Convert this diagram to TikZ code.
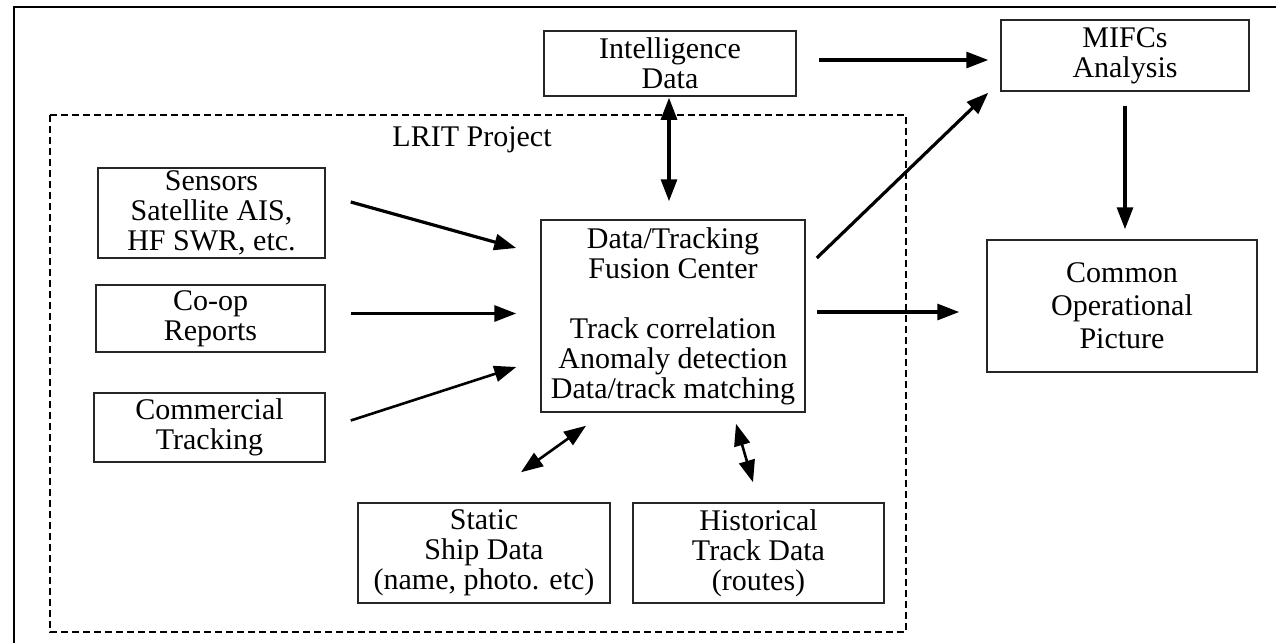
\documentclass[tikz,border=0pt]{standalone}
\usepackage{fontspec}
\setmainfont{Liberation Serif}
\usetikzlibrary{arrows.meta}
\begin{document}
\begin{tikzpicture}[x=1pt,y=-1pt,
  every node/.style={font=\fontsize{30}{30}\selectfont, inner sep=0pt, align=center},
  box/.style={draw=black!85, line width=1.5pt},
  tipa/.tip={Triangle[length=22pt,width=16pt]},
  arr/.style={line width=3.2pt, -tipa},
  dbl/.style={line width=3.2pt, tipa-tipa},
  lritbox/.style={draw=black, line width=1.8pt, dash pattern=on 7pt off 4pt},
  frame/.style={draw=black, line width=2pt}]
\useasboundingbox (0,0) rectangle (1276,643);
% outer frame (top and left visible)
\draw[frame] (14,643) -- (14,7) -- (1276,7);
% LRIT project area
\draw[lritbox] (50,115) rectangle (906,632);
\node (lrit) at (472,140) {LRIT Project};
% boxes
\node[box, minimum width=252pt, minimum height=65pt] (intel) at (670,63.5) {Intelligence\\Data};
\node[box, minimum width=248pt, minimum height=71pt] (mifc) at (1125,55.5) {MIFCs\\Analysis};
\node[box, minimum width=227pt, minimum height=90pt] (sens) at (211.5,213) {Sensors\\Satellite AIS,\\HF SWR, etc.};
\node[box, minimum width=229pt, minimum height=67pt] (coop) at (210.5,318.5) {Co-op\\Reports};
\node[box, minimum width=231pt, minimum height=69pt] (comm) at (209.5,427.5) {Commercial\\Tracking};
\node[box, minimum width=264pt, minimum height=192pt] (fus) at (673,316) {Data/Tracking\\Fusion Center\\[30pt]Track correlation\\Anomaly detection\\Data/track matching};
\node[box, minimum width=270pt, minimum height=132pt, font=\fontsize{30}{33}\selectfont] (cop) at (1122,306) {Common\\Operational\\Picture};
\node[box, minimum width=252pt, minimum height=100pt] (stat) at (484,553) {Static\\Ship Data\\(name, photo. etc)};
\node[box, minimum width=251pt, minimum height=100pt] (hist) at (758.5,553) {Historical\\Track Data\\(routes)};
% connectors
\draw[arr] ([shift={(25,-11)}]sens.east) -- ([shift={(-24,-68)}]fus.west);
\draw[arr] ([shift={(25,-5)}]coop.east) -- ([shift={(-24,-2.5)}]fus.west);
\draw[arr, line width=2.6pt] ([shift={(25,-7)}]comm.east) -- ([shift={(-24,51)}]fus.west);
\draw[dbl] ([shift={(-1,1)}]intel.south) -- ([shift={(-4,-18)}]fus.north);
\draw[arr] ([shift={(22,-3.5)}]intel.east) -- ([shift={(-12,4.5)}]mifc.west);
\draw[arr] ([shift={(11,-58)}]fus.east) -- ([shift={(-12,1)}]mifc.south west);
\draw[arr] ([shift={(11,-4)}]fus.east) -- ([shift={(-27,6)}]cop.west);
\draw[arr] ([shift={(0,14)}]mifc.south) -- ([shift={(3,-10)}]cop.north);
\draw[dbl, line width=2.6pt] ([shift={(-87,13)}]fus.south) -- ([shift={(37,-30)}]stat.north);
\draw[dbl, line width=2.6pt] ([shift={(63,11)}]fus.south) -- ([shift={(-5.5,-20)}]hist.north);
\end{tikzpicture}
\end{document}
